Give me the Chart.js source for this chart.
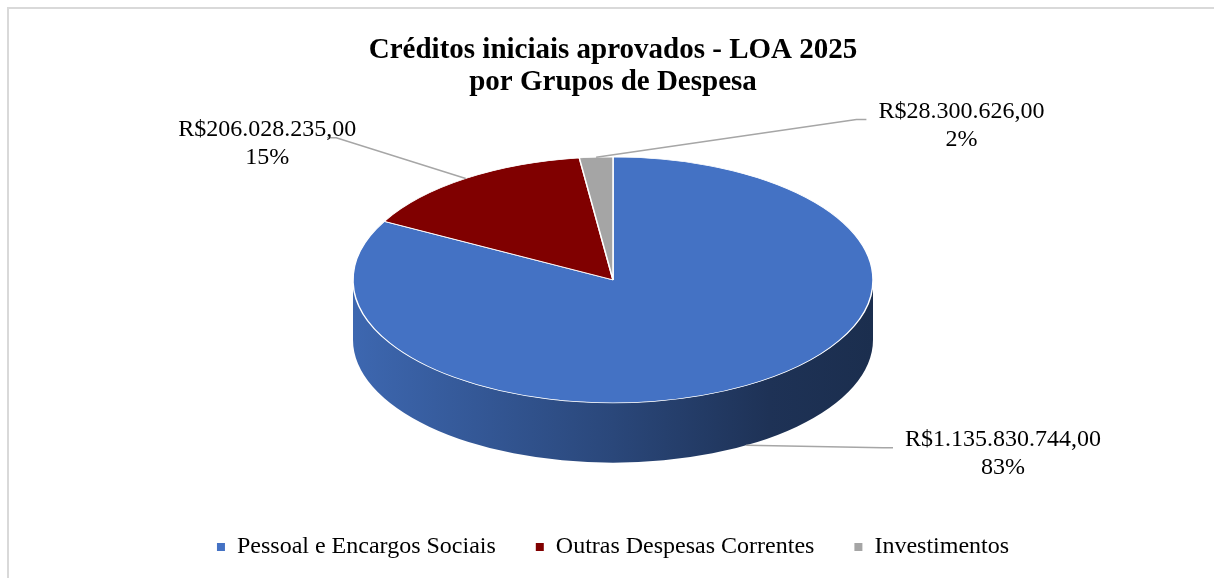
<!DOCTYPE html>
<html>
<head>
<meta charset="utf-8">
<script src="https://cdn.jsdelivr.net/npm/chart.js@4.4.1/dist/chart.umd.min.js"></script>
<style>
  html, body { margin: 0; padding: 0; background: #fff; overflow: hidden; }
  #corte { position: absolute; left: 0; top: 0; width: 1214px; height: 578px; overflow: hidden; }
  #moldura { position: absolute; left: 7px; top: 7px; width: 1300px; height: 700px; border: 2px solid #d9d9d9; box-sizing: border-box; }
  #area { position: absolute; left: 0; top: 0; width: 1214px; height: 578px; }
</style>
</head>
<body>
<div id="corte">
  <div id="moldura"></div>
  <div id="area"><canvas id="loa-2025"></canvas></div>
</div>
<script>
var grupos = ["Pessoal e Encargos Sociais", "Outras Despesas Correntes", "Investimentos"];
var valores = [1135830744.00, 206028235.00, 28300626.00];
var cores = ['#4472C4', '#800000', '#A5A5A5'];
var titulo = ['Créditos iniciais aprovados - LOA 2025', 'por Grupos de Despesa'];

// where each data label sits, in radius units from the pie centre
var posRotulos = [[1.50, 1.30], [-1.33, -1.22], [1.34, -1.37]];

var inclinacao = 0.473;  // vertical squash of the top face
var espessura = 0.23;    // depth of the side wall, fraction of radius
var fonte = "'Liberation Serif', 'Times New Roman', serif";

Chart.defaults.font.family = fonte;
Chart.defaults.color = '#000';

function brl(v) {
    var p = v.toFixed(2).split('.');
    return 'R$' + p[0].replace(/\B(?=(\d{3})+(?!\d))/g, '.') + ',' + p[1];
}

function escurecer(hex, f) {
    var n = parseInt(hex.slice(1), 16);
    var r = Math.round(((n >> 16) & 255) * f), g = Math.round(((n >> 8) & 255) * f), b = Math.round((n & 255) * f);
    return 'rgb(' + r + ',' + g + ',' + b + ')';
}

var total = valores.reduce(function (a, b) { return a + b; }, 0);

var pizza3d = {
    id: 'pizza3d',
    beforeDatasetsDraw: function (chart) {
        var ctx = chart.ctx;
        var arcs = chart.getDatasetMeta(0).data;
        var cx = arcs[0].x, cy = arcs[0].y, rx = arcs[0].outerRadius;
        var ry = rx * inclinacao, d = rx * espessura;
        arcs.forEach(function (arc, i) {
            for (var k = -1; k <= 1; k++) {
                var lo = Math.max(arc.startAngle, 2 * Math.PI * k);
                var hi = Math.min(arc.endAngle, 2 * Math.PI * k + Math.PI);
                if (hi <= lo) continue;
                var g = ctx.createLinearGradient(cx - rx, 0, cx + rx, 0);
                g.addColorStop(0, escurecer(cores[i], 0.9));
                g.addColorStop(0.5, escurecer(cores[i], 0.62));
                g.addColorStop(0.8, escurecer(cores[i], 0.44));
                g.addColorStop(1, escurecer(cores[i], 0.4));
                ctx.beginPath();
                ctx.ellipse(cx, cy, rx, ry, 0, lo, hi);
                ctx.ellipse(cx, cy + d, rx, ry, 0, hi, lo, true);
                ctx.closePath();
                ctx.fillStyle = g;
                ctx.fill();
            }
        });
        ctx.save();
        ctx.translate(0, cy);
        ctx.scale(1, inclinacao);
        ctx.translate(0, -cy);
    },
    afterDatasetsDraw: function (chart) {
        var ctx = chart.ctx;
        ctx.restore();
        var arcs = chart.getDatasetMeta(0).data;
        var cx = arcs[0].x, cy = arcs[0].y, rx = arcs[0].outerRadius;
        var ry = rx * inclinacao, d = rx * espessura;
        ctx.save();
        ctx.font = '24px ' + fonte;
        arcs.forEach(function (arc, i) {
            var meio = (arc.startAngle + arc.endAngle) / 2;
            var ax = cx + rx * Math.cos(meio);
            var ay = cy + ry * Math.sin(meio) + (Math.sin(meio) > 0 ? d : 0);
            var lx = cx + posRotulos[i][0] * rx;
            var ly = cy + posRotulos[i][1] * ry;
            var l1 = brl(valores[i]);
            var l2 = Math.round(valores[i] / total * 100) + '%';
            var w = ctx.measureText(l1).width;
            var ex, hx, ey = ly + 8;
            if (lx > ax) { ex = lx - w / 2 - 12; hx = ex - 10; }
            else { ex = lx + w / 2 - 29; hx = ex + 9; }
            ctx.beginPath();
            ctx.moveTo(ex, ey);
            ctx.lineTo(hx, ey);
            ctx.lineTo(ax, ay);
            ctx.strokeStyle = '#A6A6A6';
            ctx.lineWidth = 1.5;
            ctx.stroke();
            ctx.fillStyle = '#000';
            ctx.textAlign = 'center';
            ctx.textBaseline = 'middle';
            ctx.fillText(l1, lx, ly);
            ctx.fillText(l2, lx, ly + 28);
        });
        ctx.restore();
    }
};

var ctx = document.getElementById('loa-2025');

var grafico = new Chart(ctx, {
    type: 'pie',
    data: {
        labels: grupos,
        datasets: [{
            data: valores,
            backgroundColor: cores,
            borderColor: '#ffffff',
            borderWidth: 1.5,
            radius: 260,
            clip: false
        }]
    },
    options: {
        responsive: true,
        maintainAspectRatio: false,
        animation: false,
        events: [],
        layout: {
            padding: { left: 12, right: 0, top: 0, bottom: 9 }
        },
        plugins: {
            title: {
                display: true,
                text: titulo,
                color: '#000',
                font: { size: 29, weight: 'bold', lineHeight: 1.1 },
                padding: { top: 35, bottom: -34 }
            },
            legend: {
                position: 'bottom',
                labels: {
                    color: '#000',
                    font: { size: 24 },
                    boxWidth: 8,
                    boxHeight: 8,
                    padding: 40,
                    generateLabels: function (chart) {
                        return Chart.overrides.pie.plugins.legend.labels.generateLabels(chart).map(function (it) {
                            it.lineWidth = 0;
                            it.strokeStyle = 'rgba(0,0,0,0)';
                            return it;
                        });
                    }
                }
            },
            tooltip: { enabled: false }
        }
    },
    plugins: [pizza3d]
});
</script>
</body>
</html>
